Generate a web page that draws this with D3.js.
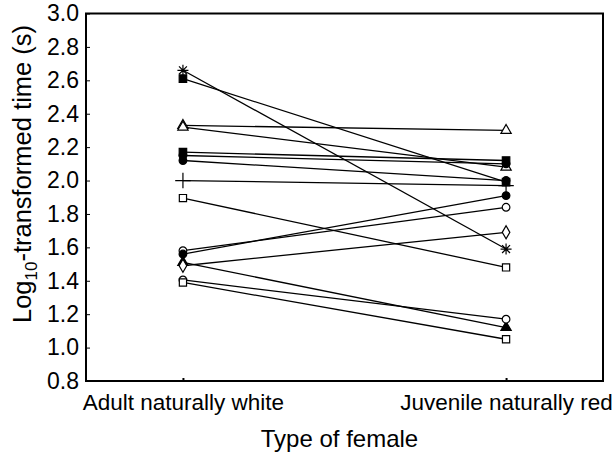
<!DOCTYPE html>
<html>
<head>
<meta charset="utf-8">
<script src="https://cdn.jsdelivr.net/npm/d3@7"></script>
<style>
  html, body { margin: 0; padding: 0; background: #fff; }
  svg { display: block; font-family: "Liberation Sans", Arial, sans-serif; }
</style>
</head>
<body>
<svg id="chart" width="616" height="462"></svg>
<script>
// Paired measurements: one line per male, from the adult white female to the juvenile red female
const femaleTypes = ["Adult naturally white", "Juvenile naturally red"];
const markerKinds = ["asterisk", "filledSquare", "openTriangle", "openTriangle", "filledSquare",
                     "filledCircle", "filledCircle", "plus", "openSquare", "openCircle",
                     "filledCircle", "filledTriangle", "openDiamond", "openCircle", "openSquare"];
const adultWhite  = [2.66, 2.61, 2.33, 2.32, 2.17, 2.15, 2.12, 2.00, 1.895, 1.58, 1.56, 1.51, 1.49, 1.405, 1.39];
const juvenileRed = [1.59, 1.99, 2.30, 2.08, 2.12, 2.10, 2.00, 1.97, 1.48, 1.84, 1.91, 1.12, 1.69, 1.17, 1.05];
const yTicks = [0.8, 1.0, 1.2, 1.4, 1.6, 1.8, 2.0, 2.2, 2.4, 2.6, 2.8, 3.0];

const svg = d3.select("#chart");
const plotLeft = 86, plotRight = 603, plotTop = 13.5, plotBottom = 381;

const x = d3.scalePoint().domain(femaleTypes).range([plotLeft, plotRight]).padding(0.3);
const y = d3.scaleLinear().domain([0.8, 3.0]).range([plotBottom, plotTop]);

const subjects = markerKinds.map((kind, i) => ({
  kind, values: [adultWhite[i], juvenileRed[i]]
}));

// Connecting lines
svg.append("g").selectAll("line").data(subjects).join("line")
  .attr("x1", x(femaleTypes[0])).attr("x2", x(femaleTypes[1]))
  .attr("y1", d => y(d.values[0])).attr("y2", d => y(d.values[1]))
  .attr("stroke", "#000").attr("stroke-width", 1.3);

// Marker shapes
const asteriskPath = () => {
  const r = 5.5, s = r * 0.72;
  return `M${-r},0L${r},0M0,${-r}L0,${r}M${-s},${-s}L${s},${s}M${-s},${s}L${s},${-s}`;
};
const markerStyle = {
  asterisk:       { path: asteriskPath, fill: "none" },
  plus:           { path: () => d3.symbol(d3.symbolPlus, 80)(), fill: "none" },
  filledSquare:   { path: () => d3.symbol(d3.symbolSquare, 56)(), fill: "#000" },
  openSquare:     { path: () => d3.symbol(d3.symbolSquare, 52)(), fill: "#fff" },
  filledCircle:   { path: () => d3.symbol(d3.symbolCircle, 46)(), fill: "#000" },
  openCircle:     { path: () => d3.symbol(d3.symbolCircle, 46)(), fill: "#fff" },
  filledTriangle: { path: () => d3.symbol(d3.symbolTriangle, 46)(), fill: "#000" },
  openTriangle:   { path: () => d3.symbol(d3.symbolTriangle, 46)(), fill: "#fff" },
  openDiamond:    { path: () => d3.symbol(d3.symbolDiamond, 50)(), fill: "#fff" }
};

const points = subjects.flatMap(d => d.values.map((v, j) => ({ kind: d.kind, cx: x(femaleTypes[j]), cy: y(v) })));
svg.append("g").selectAll("path").data(points).join("path")
  .attr("transform", d => `translate(${d.cx},${d.cy})`)
  .attr("d", d => markerStyle[d.kind].path())
  .attr("fill", d => markerStyle[d.kind].fill)
  .attr("stroke", "#000")
  .attr("stroke-width", 1.2);

// Plot frame
svg.append("rect")
  .attr("x", plotLeft).attr("y", plotTop)
  .attr("width", plotRight - plotLeft).attr("height", plotBottom - plotTop)
  .attr("fill", "none").attr("stroke", "#000").attr("stroke-width", 2);

// Y axis with inward ticks
const yAxis = svg.append("g").attr("transform", `translate(${plotLeft},0)`)
  .call(d3.axisLeft(y).tickValues(yTicks).tickFormat(d3.format(".1f")).tickSizeInner(-4).tickSizeOuter(0).tickPadding(7));
yAxis.select(".domain").remove();
yAxis.selectAll("line").attr("stroke", "#000");
yAxis.selectAll("text").attr("font-size", 23).attr("fill", "#000").attr("font-family", "Liberation Sans, Arial, sans-serif");

// X axis with inward ticks
const xAxis = svg.append("g").attr("transform", `translate(0,${plotBottom})`)
  .call(d3.axisBottom(x).tickSizeInner(-3).tickSizeOuter(0).tickPadding(13));
xAxis.select(".domain").remove();
xAxis.selectAll("line").attr("stroke", "#000").attr("stroke-width", 2);
xAxis.selectAll("text").attr("font-size", 22.5).attr("fill", "#000").attr("font-family", "Liberation Sans, Arial, sans-serif");

// Axis titles
svg.append("text")
  .attr("x", (plotLeft + plotRight) / 2 - 5).attr("y", 447)
  .attr("text-anchor", "middle").attr("font-size", 24)
  .text("Type of female");

const yTitle = svg.append("text")
  .attr("transform", "translate(31,174) rotate(-90)")
  .attr("text-anchor", "middle").attr("font-size", 25.5);
yTitle.append("tspan").text("Log");
yTitle.append("tspan").attr("font-size", 17).attr("dy", 6).text("10");
yTitle.append("tspan").attr("dy", -6).text("-transformed time (s)");
</script>
</body>
</html>
